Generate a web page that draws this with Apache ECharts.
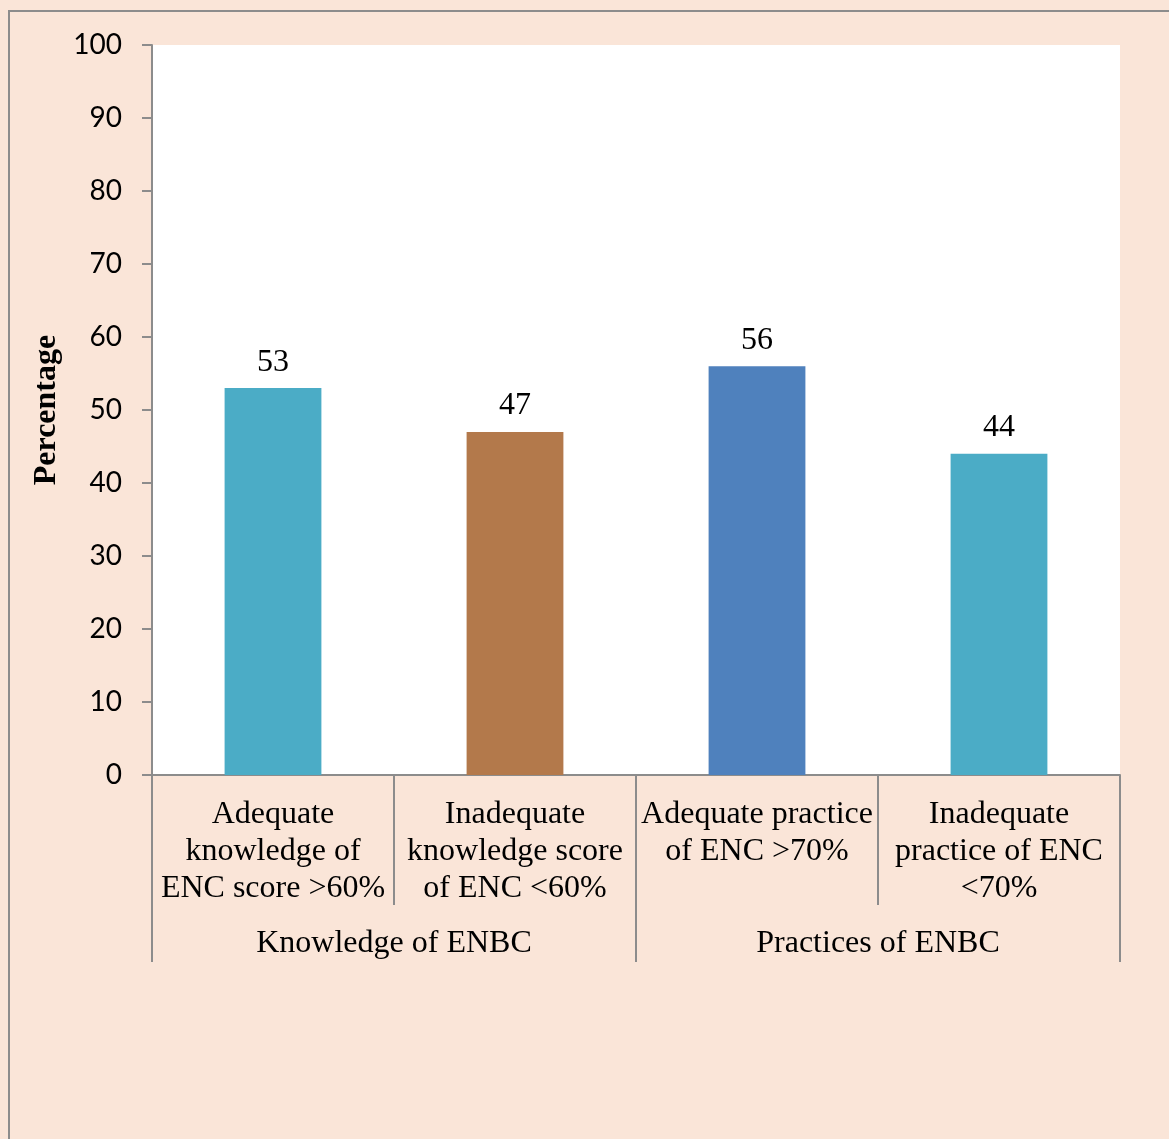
<!DOCTYPE html>
<html>
<head>
<meta charset="utf-8">
<script src="https://cdn.jsdelivr.net/npm/echarts@6/dist/echarts.min.js"></script>
<style>
html,body{margin:0;padding:0;background:#FAE5D8;}
#chart{width:1169px;height:1139px;}
</style>
</head>
<body>
<div id="chart"></div>
<script>
const categories = [
  'Adequate\nknowledge of\nENC score >60%',
  'Inadequate\nknowledge score\nof ENC <60%',
  'Adequate practice\nof ENC >70%',
  'Inadequate\npractice of ENC\n<70%'
];
const groups = ['Knowledge of ENBC', 'Practices of ENBC'];
const values = [53, 47, 56, 44];
const barColors = ['#4BACC6', '#B3794B', '#4F81BD', '#4BACC6'];
const yTicks = { min: 0, max: 100, interval: 10 };
const yTitle = 'Percentage';

const chart = echarts.init(document.getElementById('chart'));
const gray = '#8C8C8C';
const serif = '"Liberation Serif", "Times New Roman", serif';
chart.setOption({
  backgroundColor: '#FAE5D8',
  animation: false,
  graphic: [{
    type: 'rect', silent: true,
    shape: { x: 9, y: 11, width: 1300, height: 1300 },
    style: { fill: 'none', stroke: gray, lineWidth: 2 }
  }],
  grid: {
    left: 152, right: 49, top: 45, bottom: 364,
    show: true, backgroundColor: '#FFFFFF', borderWidth: 0
  },
  xAxis: [{
    type: 'category',
    data: categories,
    position: 'bottom',
    axisLine: { lineStyle: { color: gray, width: 2 } },
    axisTick: { show: true, interval: 0, length: 130, lineStyle: { color: gray, width: 2 } },
    axisLabel: {
      interval: 0, margin: 21, color: '#000',
      fontFamily: serif, fontSize: 32, lineHeight: 37
    }
  }, {
    type: 'category',
    data: groups,
    position: 'bottom',
    axisLine: { show: false },
    axisTick: { show: true, interval: 0, length: 187, lineStyle: { color: gray, width: 2 } },
    axisLabel: {
      interval: 0, margin: 150, color: '#000',
      fontFamily: serif, fontSize: 32, lineHeight: 37
    }
  }],
  yAxis: {
    type: 'value',
    min: yTicks.min, max: yTicks.max, interval: yTicks.interval,
    name: yTitle,
    nameLocation: 'middle',
    nameGap: 87,
    nameTextStyle: { fontFamily: serif, fontSize: 32, fontWeight: 'bold', color: '#000' },
    splitLine: { show: false },
    axisLine: { show: true, lineStyle: { color: gray, width: 2 } },
    axisTick: { show: true, length: 10, lineStyle: { color: gray, width: 2 } },
    axisLabel: { margin: 30, color: '#000', fontFamily: 'Lato, Carlito, sans-serif', fontSize: 28 }
  },
  series: [{
    type: 'bar',
    xAxisIndex: 0,
    barWidth: '40%',
    data: values.map((v, i) => ({ value: v, itemStyle: { color: barColors[i] } })),
    label: {
      show: true, position: 'top', distance: 10, color: '#000',
      fontFamily: serif, fontSize: 32
    }
  }]
});
</script>
</body>
</html>
